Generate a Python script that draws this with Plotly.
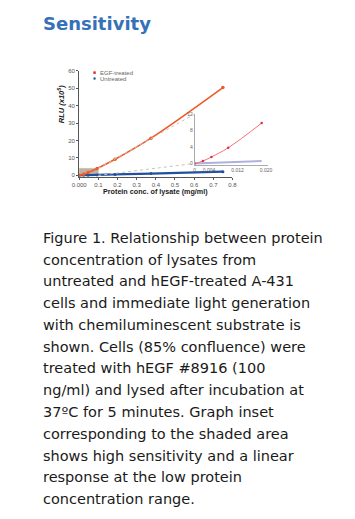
import plotly.graph_objects as go

# page offsets observed for the figure inside the page
OFFX, OFFY = 15, 8
W, H = 332, 503

# ---- data ----
conc = [0, 0.0234, 0.047, 0.094, 0.1875, 0.375, 0.75]
egf_rlu = [0, 0.6, 1.6, 3.9, 9.2, 21.3, 50.3]
untreated_rlu = [0, 0.05, 0.1, 0.25, 0.5, 1.0, 2.1]

conc_low = [0, 0.0023, 0.0047, 0.0094, 0.0188]
egf_low = [0, 0.6, 1.6, 3.8, 9.8]
untreated_low = [0, 0.08, 0.15, 0.3, 0.6]

main_xticks = [0, 0.1, 0.2, 0.3, 0.4, 0.5, 0.6, 0.7, 0.8]
main_xlabels = ["0.000", "0.1", "0.2", "0.3", "0.4", "0.5", "0.6", "0.7", "0.8"]
main_yticks = [0, 10, 20, 30, 40, 50, 60]
inset_xticks = [0, 0.004, 0.012, 0.020]
inset_xlabels = ["0", "0.004", "0.012", "0.020"]
inset_yticks = [0, 4, 8, 12]

caption = [
    "Figure 1. Relationship between protein",
    "concentration of lysates from",
    "untreated and hEGF-treated A-431",
    "cells and immediate light generation",
    "with chemiluminescent substrate is",
    "shown. Cells (85% confluence) were",
    "treated with hEGF #8916 (100",
    "ng/ml) and lysed after incubation at",
    "37ºC for 5 minutes. Graph inset",
    "corresponding to the shaded area",
    "shows high sensitivity and a linear",
    "response at the low protein",
    "concentration range.",
]

# reference-page pixel -> paper coordinates
def px(x):
    return (x - OFFX) / W

def py(y):
    return 1 - (y - OFFY) / H

EGF_C = "#ef5a2a"
UNT_C = "#21509e"
NARROW = "Liberation Sans Narrow, Liberation Sans, Arial"

fig = go.Figure()

# shaded region
fig.add_shape(type="rect", xref="x", yref="y", x0=0, x1=0.1, y0=0, y1=4,
              fillcolor="rgba(170,150,130,0.75)", line=dict(color="#c8c0b8", width=0.5), layer="below")

fig.add_trace(go.Scatter(x=conc, y=untreated_rlu, mode="lines+markers", line=dict(color=UNT_C, width=2.2, shape="spline"),
                         marker=dict(size=3, color=UNT_C), xaxis="x", yaxis="y", showlegend=False))
fig.add_trace(go.Scatter(x=conc, y=egf_rlu, mode="lines+markers", line=dict(color=EGF_C, width=1.6, shape="spline"),
                         marker=dict(size=3.5, color=EGF_C), xaxis="x", yaxis="y", showlegend=False))

fig.add_trace(go.Scatter(x=conc_low, y=untreated_low, mode="lines", line=dict(color="rgba(120,125,200,0.6)", width=2),
                         xaxis="x2", yaxis="y2", showlegend=False))
fig.add_trace(go.Scatter(x=conc_low, y=egf_low, mode="lines+markers", line=dict(color="#f0707c", width=1, shape="spline"),
                         marker=dict(size=2.5, color="#e03040"), xaxis="x2", yaxis="y2", showlegend=False))

# axes geometry (reference pixels)
mx0, mx1 = 80.7, 240.3
my0, my1 = 175.4, 68.3
ix0, ix1 = 201, 277
iy0, iy1 = 163.7, 112

tickfont = dict(family=NARROW, size=6, color="#555")
fig.update_layout(
    width=W, height=H, margin=dict(l=0, r=0, t=0, b=0),
    paper_bgcolor="white", plot_bgcolor="rgba(0,0,0,0)",
    xaxis=dict(domain=[px(mx0), px(mx1)], range=[0, 0.8], tickvals=main_xticks, ticktext=main_xlabels,
               showgrid=False, zeroline=False, showline=True, linecolor="#555", linewidth=1,
               ticks="outside", ticklen=2, tickcolor="#555", tickfont=tickfont,
               anchor="y"),
    yaxis=dict(domain=[py(my0), py(my1)], range=[-0.8, 60], tickvals=main_yticks,
               showgrid=False, zeroline=False, showline=True, linecolor="#555", linewidth=1,
               ticks="outside", ticklen=2, tickcolor="#555", tickfont=tickfont, anchor="x"),
    xaxis2=dict(domain=[px(ix0), px(ix1)], range=[0, 0.0205], tickvals=inset_xticks, ticktext=inset_xlabels,
                showgrid=False, zeroline=False, showline=True, linecolor="#aaa", linewidth=1,
                ticks="", tickfont=dict(family=NARROW, size=5, color="#666"), anchor="y2"),
    yaxis2=dict(domain=[py(iy0), py(iy1)], range=[-0.4, 12], tickvals=inset_yticks,
                showgrid=False, zeroline=False, showline=True, linecolor="#aaa", linewidth=1,
                ticks="", tickfont=dict(family=NARROW, size=5, color="#666"), anchor="x2"),
)

# connector dotted lines from shaded rect to inset
def main_to_px(x, y):
    X = mx0 + (x - 0) / 0.8 * (mx1 - mx0)
    Y = my0 + (y + 0.8) / 60.8 * (my1 - my0)
    return X, Y

ax, ay = main_to_px(0.1, 4)
bx, by = main_to_px(0.1, 0)
fig.add_shape(type="line", xref="paper", yref="paper", x0=px(ax), y0=py(ay), x1=px(ix0), y1=py(iy1),
              line=dict(color="#c8c4b8", width=1, dash="dot"))
fig.add_shape(type="line", xref="paper", yref="paper", x0=px(bx), y0=py(by), x1=px(ix0 - 2), y1=py(iy0 - 1.5),
              line=dict(color="#c8c4b8", width=1, dash="dot"))

# legend
fig.add_shape(type="rect", xref="paper", yref="paper", x0=px(95.5), x1=px(98), y0=py(71.5), y1=py(69),
              fillcolor="#e8202a", line=dict(width=0))
fig.add_shape(type="circle", xref="paper", yref="paper", x0=px(95.5), x1=px(98), y0=py(77.5), y1=py(75),
              fillcolor=UNT_C, line=dict(width=0))
fig.add_annotation(x=px(100), y=py(70.3), xref="paper", yref="paper", text="EGF-treated", showarrow=False,
                   xanchor="left", yanchor="middle", font=dict(family=NARROW, size=6, color="#666"))
fig.add_annotation(x=px(100), y=py(76.3), xref="paper", yref="paper", text="Untreated", showarrow=False,
                   xanchor="left", yanchor="middle", font=dict(family=NARROW, size=6, color="#666"))

# axis titles
fig.add_annotation(x=px(160), y=py(190.5), xref="paper", yref="paper", text="<b>Protein conc. of lysate (mg/ml)</b>",
                   showarrow=False, xanchor="center", yanchor="middle", font=dict(family=NARROW, size=7.2, color="#222"))
fig.add_annotation(x=px(62), y=py(102), xref="paper", yref="paper", text="<b><i>RLU (x10<sup>5</sup>)</i></b>",
                   showarrow=False, textangle=-90, xanchor="center", yanchor="middle",
                   font=dict(family=NARROW, size=7.5, color="#222"))

# title
fig.add_annotation(x=px(41), y=py(20.5), xref="paper", yref="paper", text="<b>Sensitivity</b>", showarrow=False,
                   xanchor="left", yanchor="middle", font=dict(family="DejaVu Sans", size=18, color="#3571b8"))

# caption
for i, line in enumerate(caption):
    fig.add_annotation(x=px(41), y=py(237 + 22 * i), xref="paper", yref="paper", text=line, showarrow=False,
                       xanchor="left", yanchor="middle", font=dict(family="DejaVu Sans", size=14.5, color="#1a1a1a"))

fig.write_html("out.html")
